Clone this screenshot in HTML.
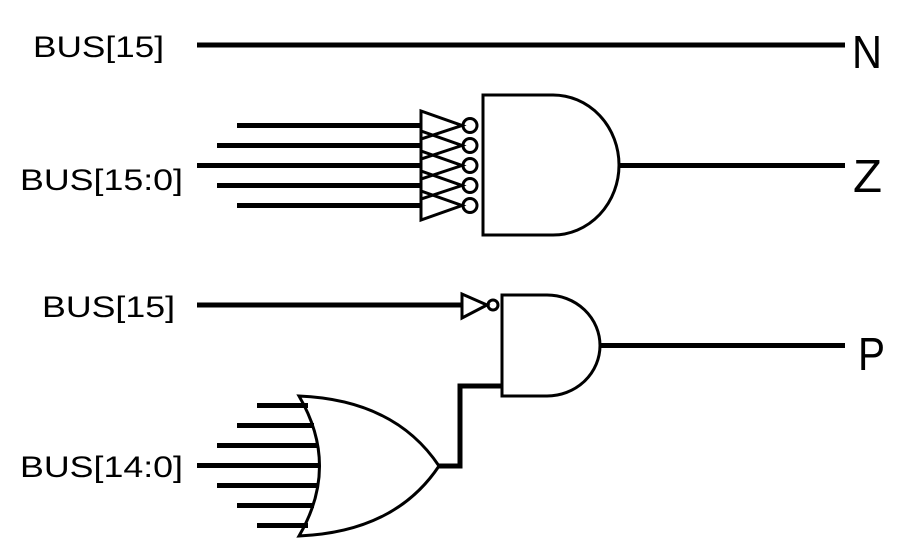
<!DOCTYPE html>
<html><head><meta charset="utf-8"><style>
html,body{margin:0;padding:0;background:#fff;}
svg{display:block;}
text{font-family:"Liberation Sans",Arial,sans-serif;fill:#000;}
</style></head><body>
<svg width="908" height="546" viewBox="0 0 908 546">
<g>
  <text x="33" y="57" font-size="30" textLength="131" lengthAdjust="spacingAndGlyphs">BUS[15]</text>
  <line x1="197" y1="45" x2="845" y2="45" stroke="#000" stroke-width="5"/>
  <text x="852" y="68" font-size="46" textLength="30" lengthAdjust="spacingAndGlyphs">N</text>
</g>
<g>
  <text x="20" y="190" font-size="30" textLength="163" lengthAdjust="spacingAndGlyphs">BUS[15:0]</text>
  <g stroke="#000" stroke-width="5">
    <line x1="237" y1="125.5" x2="422" y2="125.5"/>
    <line x1="217" y1="145.5" x2="422" y2="145.5"/>
    <line x1="197" y1="165.5" x2="422" y2="165.5"/>
    <line x1="217" y1="185.5" x2="422" y2="185.5"/>
    <line x1="237" y1="205.5" x2="422" y2="205.5"/>
  </g>
  <g fill="none" stroke="#000" stroke-width="3">
    <polygon points="421,111 421,139 462,125.5"/>
    <polygon points="421,131 421,159 462,145.5"/>
    <polygon points="421,151 421,179 462,165.5"/>
    <polygon points="421,171 421,199 462,185.5"/>
    <polygon points="421,191 421,220 462,205.5"/>
    <circle cx="470" cy="125.5" r="7"/>
    <circle cx="470" cy="145.5" r="7"/>
    <circle cx="470" cy="165.5" r="7"/>
    <circle cx="470" cy="185.5" r="7"/>
    <circle cx="470" cy="205.5" r="7"/>
  </g>
  <path d="M483,95 L553,95 A66,70 0 0 1 553,235 L483,235 Z" fill="none" stroke="#000" stroke-width="3"/>
  <line x1="618" y1="165.5" x2="845" y2="165.5" stroke="#000" stroke-width="5"/>
  <text x="853" y="192" font-size="46" textLength="29" lengthAdjust="spacingAndGlyphs">Z</text>
</g>
<g>
  <text x="42" y="317" font-size="30" textLength="133" lengthAdjust="spacingAndGlyphs">BUS[15]</text>
  <line x1="197" y1="305" x2="462" y2="305" stroke="#000" stroke-width="5"/>
  <polygon points="462,294 462,318 487,305" fill="none" stroke="#000" stroke-width="3"/>
  <circle cx="493" cy="305" r="5" fill="none" stroke="#000" stroke-width="3"/>
  <path d="M502,295 L547,295 A53,50.5 0 0 1 547,396 L502,396 Z" fill="none" stroke="#000" stroke-width="3"/>
  <line x1="600" y1="345.5" x2="845" y2="345.5" stroke="#000" stroke-width="5"/>
  <text x="858" y="370" font-size="46" textLength="27" lengthAdjust="spacingAndGlyphs">P</text>
  <text x="20" y="477" font-size="30" textLength="163" lengthAdjust="spacingAndGlyphs">BUS[14:0]</text>
  <g stroke="#000" stroke-width="5">
    <line x1="257" y1="405.5" x2="308" y2="405.5"/>
    <line x1="237" y1="425.5" x2="314" y2="425.5"/>
    <line x1="217" y1="445.5" x2="318" y2="445.5"/>
    <line x1="197" y1="465.5" x2="319" y2="465.5"/>
    <line x1="217" y1="485.5" x2="318" y2="485.5"/>
    <line x1="237" y1="505.5" x2="314" y2="505.5"/>
    <line x1="257" y1="525.5" x2="308" y2="525.5"/>
  </g>
  <path d="M299,396 Q340,466 299,536 Q395,532 439,466 Q395,400 299,396 Z" fill="none" stroke="#000" stroke-width="3"/>
  <polyline points="439,466 460,466 460,386 503,386" fill="none" stroke="#000" stroke-width="5"/>
</g>
</svg>
</body></html>
